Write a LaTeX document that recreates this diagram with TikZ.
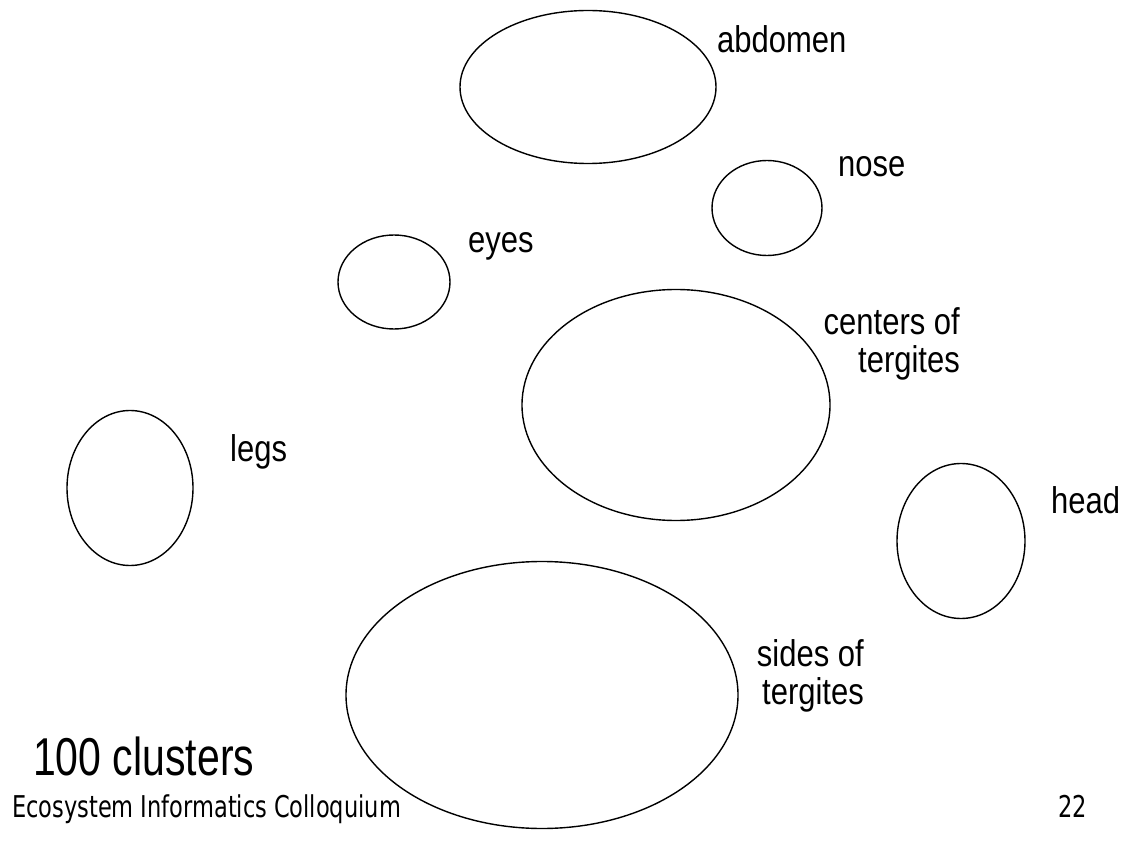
\documentclass[tikz,border=0pt]{standalone}
\usepackage{fontspec}
\setmainfont{Liberation Sans}
\newfontfamily\footfont{DejaVu Sans Condensed}
\usetikzlibrary{shapes.geometric}
\newcommand{\tallbox}[2]{\scalebox{1}[#1]{#2}}
\tikzset{
  blob/.style={draw=black, line width=1.4pt, ellipse, inner sep=0pt},
  lbl/.style={inner sep=0pt, font=\fontsize{31}{29.2}\selectfont},
  foot/.style={inner sep=0pt, anchor=base west, font=\footfont\fontsize{25}{28}\selectfont},
}
\begin{document}
\begin{tikzpicture}[x=1pt,y=-1pt]
\useasboundingbox (0,0) rectangle (1136,845);
% ellipses
\node[blob, minimum width=256pt, minimum height=153pt] (abd) at (588,87) {};
\node[blob, minimum width=110pt, minimum height=95pt] (nose) at (767,208) {};
\node[blob, minimum width=112pt, minimum height=94pt] (eyes) at (394,282) {};
\node[blob, minimum width=308pt, minimum height=231pt] (cen) at (676,405) {};
\node[blob, minimum width=126pt, minimum height=155pt] (legs) at (130,488) {};
\node[blob, minimum width=128pt, minimum height=155pt] (head) at (961,541) {};
\node[blob, minimum width=392pt, minimum height=267pt] (sides) at (542,695) {};
% labels
\node[lbl, anchor=base west] (tabd) at (717,53) {\tallbox{1.2}{abdomen}};
\node[lbl, anchor=base west] (tnose) at (838,177) {\tallbox{1.2}{nose}};
\node[lbl, anchor=base west] (teyes) at (468,253) {\tallbox{1.2}{eyes}};
\node[lbl, anchor=base east] (tcen) at (960,372) {\tallbox{1.2}{\begin{tabular}[b]{@{}r@{}}centers of\\tergites\end{tabular}}};
\node[lbl, anchor=base west] (tlegs) at (230,461) {\tallbox{1.2}{legs}};
\node[lbl, anchor=base west] (thead) at (1051,513) {\tallbox{1.2}{head}};
\node[lbl, anchor=base east] (tsides) at (864,704) {\tallbox{1.2}{\begin{tabular}[b]{@{}r@{}}sides of\\tergites\end{tabular}}};
\node[inner sep=0pt, anchor=base west, font=\fontsize{41}{45}\selectfont] (tclus) at (33,775) {\tallbox{1.3}{100 clusters}};
\node[foot] (tfoot) at (12,817) {\tallbox{1.2}{Ecosystem Informatics Colloquium}};
\node[foot] (tpage) at (1058,817) {\tallbox{1.2}{22}};
\end{tikzpicture}
\end{document}
